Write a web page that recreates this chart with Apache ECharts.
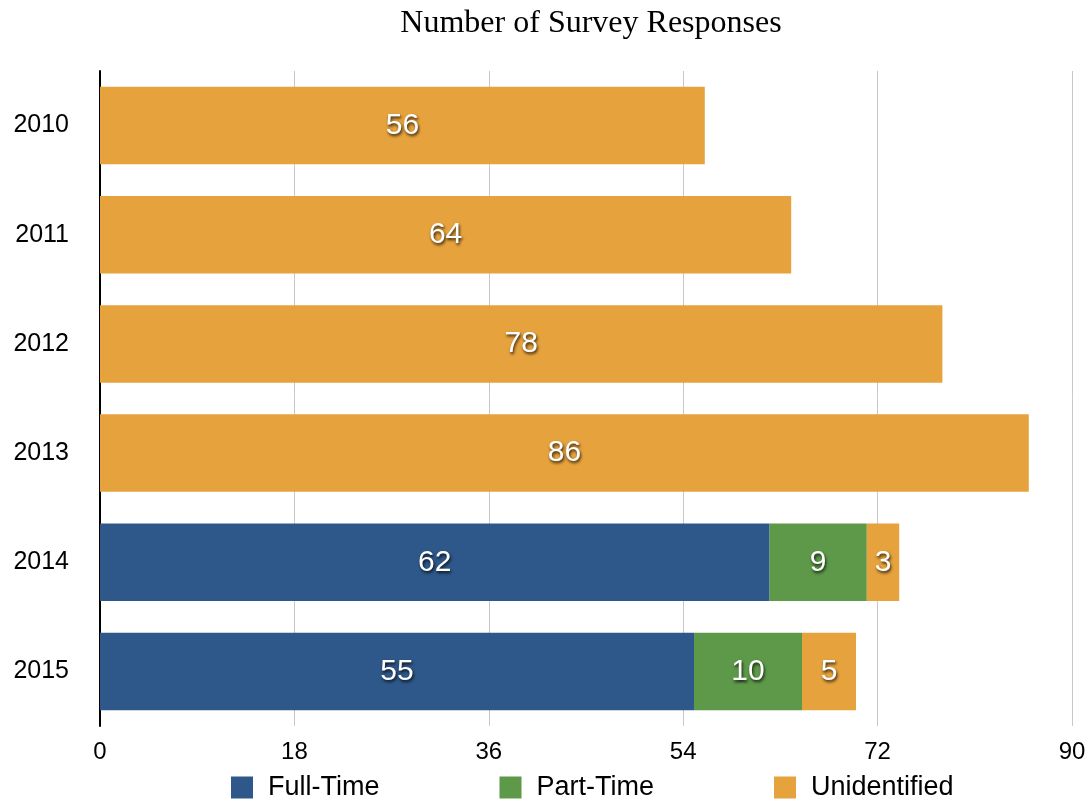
<!DOCTYPE html>
<html>
<head>
<meta charset="utf-8">
<script src="https://cdn.jsdelivr.net/npm/echarts@6/dist/echarts.min.js"></script>
<style>
html,body{margin:0;padding:0;background:#fff;}
#chart_main{width:1092px;height:802px;}
</style>
</head>
<body>
<div id="chart_main"></div>
<script>
var years = ['2010','2011','2012','2013','2014','2015'];
var fullTime = [null, null, null, null, 62, 55];
var partTime = [null, null, null, null, 9, 10];
var unidentified = [56, 64, 78, 86, 3, 5];
var xTicks = [0, 18, 36, 54, 72, 90];

var myChart = echarts.init(document.getElementById('chart_main'));

var barLabel = {
    show: true,
    position: 'inside',
    color: '#fff',
    fontSize: 30,
    fontFamily: 'Liberation Sans',
    textShadowColor: 'rgba(0,0,0,0.8)',
    textShadowBlur: 3,
    textShadowOffsetX: 1,
    textShadowOffsetY: 2
};

function makeSeries(name, data, color){
    return {
        name: name,
        type: 'bar',
        stack: 'total',
        barWidth: '71%',
        data: data,
        itemStyle: {color: color},
        label: barLabel
    };
}

var option = {
    backgroundColor: '#fff',
    animation: false,
    title: {
        text: 'Number of Survey Responses',
        left: 586,
        textAlign: 'center',
        top: 3,
        textStyle: {
            fontFamily: 'Liberation Serif',
            fontWeight: 'normal',
            fontSize: 32,
            color: '#000'
        }
    },
    legend: {
        data: ['Full-Time','Part-Time','Unidentified'],
        bottom: -4,
        left: 226,
        itemWidth: 22,
        itemHeight: 22,
        itemGap: 120,
        icon: 'rect',
        textStyle: {fontFamily: 'Liberation Sans', fontSize: 27, color: '#000', padding: [0, 0, 0, 10]}
    },
    grid: {left: 100, right: 20, top: 71, bottom: 76},
    xAxis: {
        type: 'value',
        min: xTicks[0],
        max: xTicks[xTicks.length - 1],
        interval: 18,
        axisLine: {show: false},
        axisTick: {show: false},
        axisLabel: {
            fontFamily: 'Liberation Sans',
            fontSize: 24,
            color: '#000',
            margin: 14
        },
        splitLine: {
            show: true,
            lineStyle: {color: '#c8c8c8', width: 1}
        }
    },
    yAxis: {
        type: 'category',
        data: years,
        inverse: true,
        axisLine: {show: true, lineStyle: {color: '#000', width: 2}},
        axisTick: {show: false},
        axisLabel: {
            fontFamily: 'Liberation Sans',
            fontSize: 25,
            color: '#000',
            margin: 31
        }
    },
    series: [
        makeSeries('Full-Time', fullTime, '#2e5889'),
        makeSeries('Part-Time', partTime, '#5d9949'),
        makeSeries('Unidentified', unidentified, '#e6a23d')
    ]
};

myChart.setOption(option);
</script>
</body>
</html>
